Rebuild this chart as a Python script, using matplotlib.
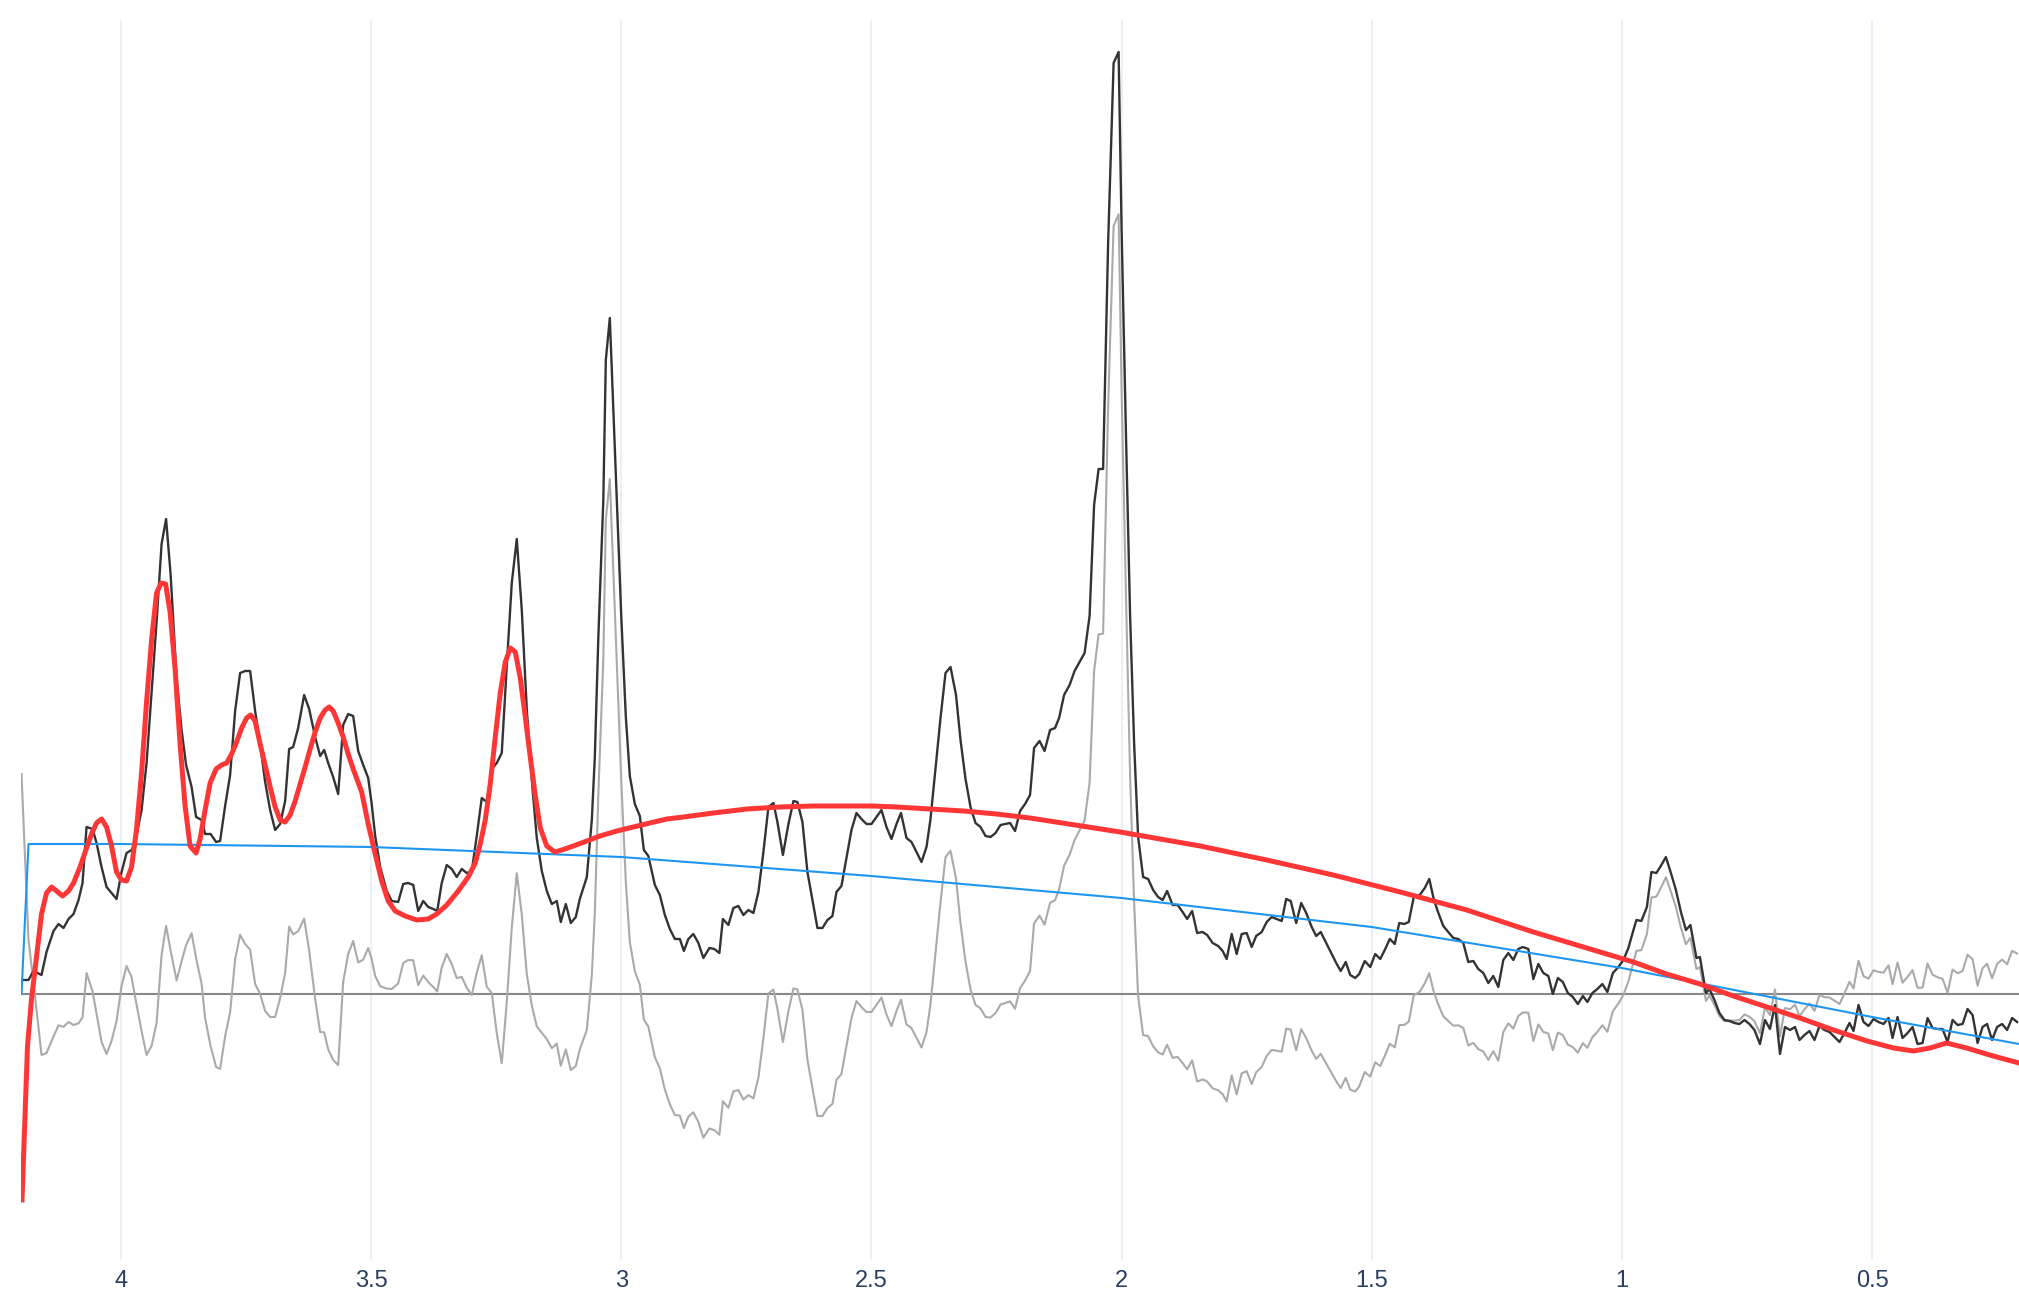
import numpy as np
import matplotlib.pyplot as plt

# Spectre (ppm, intensité)
ppm = [4.199, 4.185, 4.175, 4.159, 4.149, 4.135, 4.125, 4.115, 4.105, 4.095, 4.085, 4.077, 4.069, 4.057,
       4.049, 4.039, 4.029, 4.019, 4.009, 3.999, 3.989, 3.979, 3.972, 3.959, 3.949, 3.939, 3.929, 3.919,
       3.910, 3.901, 3.889, 3.879, 3.870, 3.859, 3.850, 3.839, 3.832, 3.821, 3.810, 3.802, 3.792, 3.782,
       3.772, 3.762, 3.752, 3.742, 3.732, 3.722, 3.712, 3.702, 3.692, 3.682, 3.672, 3.664, 3.656, 3.646,
       3.634, 3.624, 3.612, 3.602, 3.594, 3.586, 3.576, 3.566, 3.556, 3.546, 3.536, 3.526, 3.516, 3.506,
       3.499, 3.492, 3.482, 3.469, 3.459, 3.446, 3.436, 3.426, 3.416, 3.406, 3.396, 3.386, 3.376, 3.368,
       3.359, 3.349, 3.339, 3.329, 3.319, 3.309, 3.299, 3.289, 3.279, 3.269, 3.259, 3.249, 3.239, 3.229,
       3.219, 3.209, 3.199, 3.189, 3.179, 3.169, 3.159, 3.149, 3.139, 3.129, 3.121, 3.111, 3.101, 3.091,
       3.083, 3.069, 3.059, 3.053, 3.046, 3.036, 3.031, 3.023, 3.000, 2.991, 2.983, 2.973, 2.963, 2.955,
       2.946, 2.933, 2.923, 2.913, 2.903, 2.893, 2.883, 2.875, 2.866, 2.856, 2.846, 2.836, 2.824, 2.814,
       2.804, 2.797, 2.786, 2.776, 2.766, 2.756, 2.746, 2.736, 2.726, 2.716, 2.706, 2.696, 2.688, 2.677,
       2.666, 2.656, 2.648, 2.638, 2.628, 2.618, 2.608, 2.598, 2.588, 2.578, 2.570, 2.560, 2.550, 2.540,
       2.530, 2.520, 2.510, 2.500, 2.490, 2.480, 2.470, 2.460, 2.450, 2.441, 2.430, 2.420, 2.410, 2.400,
       2.390, 2.382, 2.373, 2.362, 2.352, 2.342, 2.331, 2.322, 2.312, 2.302, 2.292, 2.282, 2.272, 2.262,
       2.252, 2.242, 2.232, 2.223, 2.213, 2.203, 2.193, 2.183, 2.175, 2.164, 2.154, 2.143, 2.133, 2.125,
       2.115, 2.104, 2.094, 2.084, 2.074, 2.064, 2.055, 2.046, 2.037, 2.027, 2.016, 2.006, 2.000, 1.991,
       1.983, 1.975, 1.967, 1.957, 1.947, 1.937, 1.927, 1.918, 1.909, 1.898, 1.888, 1.878, 1.869, 1.859,
       1.849, 1.838, 1.829, 1.818, 1.807, 1.798, 1.790, 1.780, 1.770, 1.760, 1.750, 1.740, 1.731, 1.720,
       1.710, 1.700, 1.690, 1.680, 1.671, 1.662, 1.651, 1.641, 1.631, 1.620, 1.611, 1.602, 1.591, 1.581,
       1.571, 1.562, 1.552, 1.543, 1.533, 1.525, 1.514, 1.503, 1.493, 1.483, 1.473, 1.464, 1.454, 1.445,
       1.435, 1.426, 1.416, 1.404, 1.394, 1.385, 1.377, 1.369, 1.357, 1.347, 1.337, 1.327, 1.317, 1.307,
       1.297, 1.287, 1.277, 1.267, 1.257, 1.247, 1.237, 1.227, 1.217, 1.207, 1.198, 1.187, 1.177, 1.167,
       1.157, 1.147, 1.138, 1.128, 1.118, 1.108, 1.098, 1.088, 1.078, 1.069, 1.059, 1.049, 1.039, 1.029,
       1.018, 1.007, 0.997, 0.987, 0.978, 0.971, 0.961, 0.950, 0.941, 0.931, 0.921, 0.912, 0.902, 0.892,
       0.882, 0.872, 0.863, 0.855, 0.851, 0.844, 0.837, 0.832, 0.825, 0.815, 0.805, 0.795, 0.785, 0.775,
       0.765, 0.755, 0.745, 0.735, 0.724, 0.714, 0.704, 0.694, 0.684, 0.674, 0.664, 0.654, 0.645, 0.635,
       0.625, 0.615, 0.605, 0.595, 0.585, 0.575, 0.565, 0.555, 0.545, 0.537, 0.527, 0.517, 0.507, 0.497,
       0.487, 0.477, 0.467, 0.459, 0.449, 0.439, 0.429, 0.419, 0.409, 0.399, 0.389, 0.379, 0.369, 0.359,
       0.349, 0.339, 0.329, 0.319, 0.309, 0.299, 0.289, 0.279, 0.270, 0.260, 0.250, 0.240, 0.230, 0.220,
       0.210]

intensite = [0.14, 0.14, 0.23, 0.19, 0.42, 0.63, 0.70, 0.66, 0.75, 0.80, 0.94, 1.11, 1.67, 1.65,
             1.51, 1.27, 1.07, 1.01, 0.95, 1.22, 1.41, 1.44, 1.51, 1.84, 2.31, 3.02, 3.72, 4.50,
             4.75, 4.20, 3.16, 2.64, 2.29, 2.07, 1.77, 1.74, 1.60, 1.60, 1.52, 1.53, 1.88, 2.19,
             2.83, 3.21, 3.23, 3.23, 2.83, 2.50, 2.12, 1.84, 1.64, 1.70, 1.93, 2.45, 2.47, 2.66,
             2.99, 2.85, 2.57, 2.38, 2.44, 2.31, 2.17, 2.00, 2.69, 2.80, 2.78, 2.43, 2.29, 2.16,
             1.90, 1.58, 1.27, 1.03, 0.93, 0.92, 1.10, 1.11, 1.09, 0.83, 0.93, 0.87, 0.85, 0.83,
             1.11, 1.29, 1.25, 1.17, 1.25, 1.21, 1.23, 1.58, 1.96, 1.92, 2.25, 2.31, 2.41, 3.28,
             4.11, 4.55, 3.84, 2.85, 2.14, 1.56, 1.23, 1.03, 0.90, 0.93, 0.72, 0.90, 0.71, 0.77,
             0.95, 1.17, 1.74, 2.37, 3.56, 4.94, 6.34, 6.76, 3.76, 2.77, 2.18, 1.90, 1.78, 1.44,
             1.38, 1.09, 0.99, 0.79, 0.65, 0.55, 0.55, 0.43, 0.55, 0.60, 0.51, 0.36, 0.46, 0.45,
             0.41, 0.75, 0.69, 0.86, 0.88, 0.79, 0.84, 0.81, 1.02, 1.42, 1.87, 1.91, 1.72, 1.39,
             1.70, 1.93, 1.92, 1.72, 1.22, 0.94, 0.66, 0.66, 0.74, 0.78, 1.02, 1.08, 1.36, 1.64,
             1.81, 1.75, 1.70, 1.70, 1.77, 1.84, 1.67, 1.55, 1.70, 1.81, 1.56, 1.52, 1.42, 1.32,
             1.47, 1.75, 2.20, 2.76, 3.21, 3.27, 2.99, 2.54, 2.15, 1.87, 1.71, 1.67, 1.58, 1.57,
             1.61, 1.69, 1.70, 1.71, 1.63, 1.83, 1.90, 1.99, 2.46, 2.53, 2.43, 2.64, 2.66, 2.76,
             2.99, 3.09, 3.23, 3.32, 3.41, 3.78, 4.89, 5.25, 5.25, 7.50, 9.31, 9.42, 7.64, 5.53,
             3.78, 2.51, 1.57, 1.17, 1.15, 1.04, 0.97, 0.94, 1.03, 0.89, 0.89, 0.82, 0.75, 0.83,
             0.61, 0.62, 0.59, 0.51, 0.48, 0.43, 0.35, 0.60, 0.40, 0.60, 0.61, 0.47, 0.58, 0.62,
             0.72, 0.77, 0.75, 0.73, 0.95, 0.93, 0.71, 0.91, 0.81, 0.67, 0.58, 0.62, 0.51, 0.41,
             0.31, 0.23, 0.32, 0.19, 0.16, 0.20, 0.33, 0.27, 0.40, 0.35, 0.45, 0.55, 0.50, 0.71,
             0.70, 0.72, 0.97, 0.99, 1.06, 1.15, 0.97, 0.84, 0.68, 0.62, 0.56, 0.55, 0.51, 0.32,
             0.33, 0.25, 0.21, 0.11, 0.18, 0.07, 0.34, 0.41, 0.34, 0.45, 0.47, 0.45, 0.15, 0.30,
             0.21, 0.18, 0.00, 0.16, 0.12, 0.01, -0.03, -0.10, -0.02, -0.08, 0.01, 0.05, 0.10, 0.02,
             0.21, 0.27, 0.34, 0.46, 0.62, 0.74, 0.73, 0.87, 1.22, 1.21, 1.29, 1.37, 1.21, 1.04,
             0.82, 0.64, 0.69, 0.47, 0.36, 0.37, 0.16, 0.01, 0.05, -0.06, -0.19, -0.26, -0.27, -0.29,
             -0.30, -0.26, -0.30, -0.36, -0.50, -0.26, -0.35, -0.11, -0.60, -0.33, -0.36, -0.33, -0.46, -0.41,
             -0.37, -0.46, -0.32, -0.36, -0.38, -0.43, -0.48, -0.39, -0.29, -0.37, -0.11, -0.28, -0.32, -0.25,
             -0.28, -0.30, -0.24, -0.44, -0.23, -0.44, -0.39, -0.33, -0.50, -0.49, -0.24, -0.34, -0.35, -0.35,
             -0.48, -0.26, -0.31, -0.30, -0.15, -0.21, -0.49, -0.33, -0.30, -0.46, -0.33, -0.30, -0.36, -0.24,
             -0.28]

# Ligne de base ajustée (rouge)
ppm_base = [4.198, 4.187, 4.179, 4.169, 4.159, 4.149, 4.139, 4.129, 4.117, 4.105, 4.095, 4.082, 4.069,
            4.059, 4.049, 4.039, 4.029, 4.019, 4.009, 3.999, 3.989, 3.979, 3.969, 3.959, 3.949, 3.939,
            3.929, 3.920, 3.911, 3.902, 3.892, 3.882, 3.872, 3.862, 3.850, 3.842, 3.832, 3.822, 3.810,
            3.799, 3.789, 3.779, 3.769, 3.759, 3.749, 3.741, 3.732, 3.722, 3.712, 3.702, 3.692, 3.682,
            3.672, 3.662, 3.652, 3.642, 3.632, 3.622, 3.612, 3.602, 3.592, 3.584, 3.576, 3.566, 3.556,
            3.546, 3.536, 3.519, 3.506, 3.492, 3.479, 3.466, 3.452, 3.432, 3.409, 3.386, 3.369, 3.349,
            3.326, 3.306, 3.292, 3.282, 3.272, 3.262, 3.252, 3.242, 3.232, 3.222, 3.212, 3.202, 3.192,
            3.182, 3.172, 3.162, 3.149, 3.133, 3.119, 3.096, 3.069, 3.043, 3.009, 2.976, 2.943, 2.909,
            2.876, 2.816, 2.749, 2.683, 2.616, 2.549, 2.499, 2.450, 2.383, 2.316, 2.250, 2.183, 2.003,
            1.843, 1.710, 1.577, 1.443, 1.310, 1.177, 1.044, 0.977, 0.911, 0.844, 0.777, 0.710, 0.644,
            0.577, 0.510, 0.457, 0.417, 0.384, 0.351, 0.311, 0.258, 0.206]
base = [-2.06, -0.52, -0.05, 0.37, 0.80, 1.01, 1.07, 1.03, 0.98, 1.03, 1.11, 1.27, 1.46,
        1.60, 1.71, 1.75, 1.67, 1.48, 1.22, 1.14, 1.13, 1.27, 1.65, 2.21, 2.92, 3.54,
        4.01, 4.11, 4.10, 3.82, 3.25, 2.50, 1.88, 1.48, 1.41, 1.55, 1.84, 2.11, 2.25,
        2.29, 2.31, 2.40, 2.52, 2.66, 2.76, 2.79, 2.73, 2.50, 2.29, 2.07, 1.87, 1.74,
        1.72, 1.79, 1.93, 2.10, 2.27, 2.45, 2.62, 2.76, 2.84, 2.87, 2.83, 2.71, 2.57,
        2.40, 2.25, 2.02, 1.70, 1.40, 1.13, 0.93, 0.83, 0.78, 0.74, 0.75, 0.80, 0.89,
        1.03, 1.17, 1.31, 1.50, 1.74, 2.10, 2.57, 3.01, 3.32, 3.46, 3.42, 3.16, 2.77,
        2.37, 1.98, 1.66, 1.48, 1.42, 1.44, 1.48, 1.53, 1.58, 1.63, 1.67, 1.71, 1.75,
        1.77, 1.81, 1.85, 1.87, 1.88, 1.88, 1.88, 1.87, 1.85, 1.83, 1.80, 1.76, 1.62,
        1.48, 1.34, 1.19, 1.02, 0.84, 0.62, 0.42, 0.32, 0.20, 0.10, -0.02, -0.13, -0.24,
        -0.36, -0.47, -0.54, -0.57, -0.54, -0.49, -0.54, -0.62, -0.69]

# Courbe bleue
ppm_bleu = [4.199, 4.185, 4.0, 3.5, 3.0, 2.5, 2.0, 1.5, 1.0, 0.5, 0.206]
bleu = [0.0, 1.50, 1.50, 1.47, 1.37, 1.18, 0.96, 0.67, 0.26, -0.23, -0.50]

ticks = [4, 3.5, 3, 2.5, 2, 1.5, 1, 0.5]
tick_labels = ['4', '3.5', '3', '2.5', '2', '1.5', '1', '0.5']

# Spectre corrigé = spectre - ligne de base
ppm = np.array(ppm)
intensite = np.array(intensite)
base_sur_ppm = np.interp(ppm, np.array(ppm_base)[::-1], np.array(base)[::-1])
corrige = intensite - base_sur_ppm

W, H = 2019, 1298
fig = plt.figure(figsize=(W / 100, H / 100), dpi=100)
ax = fig.add_axes([21 / W, (H - 1260) / H, (W - 21) / W, 1240 / H])

ax.axhline(0, color='#888888', linewidth=1.5, zorder=1)
ax.plot(ppm, corrige, color='#aaaaaa', linewidth=1.5, zorder=2)
ax.plot(ppm, intensite, color='#333333', linewidth=1.7, zorder=3)
ax.plot(ppm_bleu, bleu, color='#1e96f0', linewidth=1.5, zorder=4)
ax.plot(ppm_base, base, color='#ff3636', linewidth=3.6, zorder=5)

ax.set_xlim(4.2, 0.2062)
ax.set_ylim(-2.66, 9.74)
ax.set_xticks(ticks)
ax.set_xticklabels(tick_labels)
ax.set_yticks([])
ax.grid(axis='x', color='#ebf0f8', linewidth=1.5, zorder=0)
ax.set_axisbelow(True)
ax.tick_params(axis='x', length=0, pad=7, labelsize=17, labelcolor='#2a3f5f')
for lab in ax.get_xticklabels():
    lab.set_fontfamily('Liberation Sans')
for s in ax.spines.values():
    s.set_visible(False)

fig.savefig('out.png', dpi=100)
